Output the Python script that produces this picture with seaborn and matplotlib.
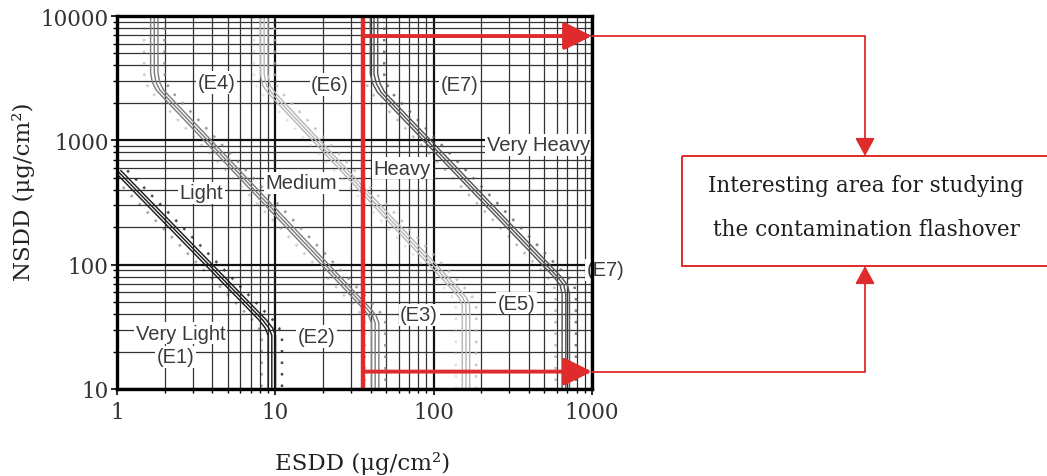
import numpy as np
import pandas as pd
import matplotlib.pyplot as plt
import seaborn as sns
from matplotlib.patches import Rectangle
from matplotlib.ticker import NullFormatter


# ==========================================
#   DATA (ug/cm2)
# ==========================================
# centre line of each band of curves, listed from top to bottom
e1_esdd = [1.0, 8.3, 9.1, 9.5, 9.5]
e1_nsdd = [573, 36, 31, 27, 10]

e2_esdd = [1.72, 1.72, 1.76, 1.86, 38.0, 41.0, 42.7, 42.7]
e2_nsdd = [10000, 3500, 2950, 2550, 44, 39, 34, 10]

e3_esdd = [8.5, 8.5, 8.8, 9.5, 140, 153, 160, 160]
e3_nsdd = [10000, 3400, 2750, 2400, 62, 54, 47, 10]

e7_esdd = [42, 42, 43.5, 46.5, 610, 665, 683, 683]
e7_nsdd = [10000, 3400, 2850, 2440, 79, 68, 58, 10]

band_names = ["E1", "E2", "E3", "E7"]
band_esdd = [e1_esdd, e2_esdd, e3_esdd, e7_esdd]
band_nsdd = [e1_nsdd, e2_nsdd, e3_nsdd, e7_nsdd]

label_text = ["(E4)", "(E6)", "(E7)", "Light", "Medium", "Heavy", "Very Heavy",
              "(E7)", "(E5)", "(E3)", "(E2)", "Very Light", "(E1)"]
label_esdd = [4.27, 22.2, 146, 3.4, 14.6, 63.5, 460, 1220, 334, 81, 18.2, 2.52, 2.34]
label_nsdd = [2920, 2810, 2810, 378, 456, 598, 922, 91, 49, 39.5, 26.4, 28.1, 18.2]

# area of interest
zone_esdd_min = 36
zone_esdd_max = 1000
zone_nsdd_top = 6900
zone_nsdd_bottom = 13.8

box_lines = ["Interesting area for studying", "the contamination flashover"]

# ==========================================
#   STYLE
# ==========================================
sns.set_style("ticks")
plt.rcParams['font.family'] = ['DejaVu Serif']

BAND_COLORS = {"E1": "#1e1e1e", "E2": "#808080", "E3": "#b8b8b8", "E7": "#585858"}
RED = "#df2b2b"
# strands of a band: (x shift factor, linestyle, linewidth, alpha)
STRANDS = [(1 / 1.16, (0, (1.0, 3.6)), 1.8, 0.4),
           (1 / 1.055, '-', 1.05, 1.0),
           (1.0, '-', 1.05, 1.0),
           (1.055, '-', 1.05, 1.0),
           (1.16, (0, (1.0, 3.6)), 1.8, 0.8)]

W, H = 1047, 477
fig = plt.figure(figsize=(W / 100, H / 100), dpi=100)
ax = fig.add_axes([117 / W, (H - 390) / H, 475 / W, 373 / H])
ax.set_xscale('log')
ax.set_yscale('log')
ax.set_xlim(1, 1000)
ax.set_ylim(10, 10000)

# grid
ax.grid(True, which='major', color='#111111', lw=1.6, zorder=0)
ax.grid(True, which='minor', color='#333333', lw=0.9, zorder=0)
ax.set_axisbelow(True)

# bands of curves
for name, xs, ys in zip(band_names, band_esdd, band_nsdd):
    df = pd.DataFrame({"esdd": xs, "nsdd": ys})
    for shift, ls, lw, al in STRANDS:
        sns.lineplot(x=df["esdd"] * shift, y=df["nsdd"], sort=False, estimator=None,
                     color=BAND_COLORS[name], linestyle=ls, linewidth=lw, alpha=al,
                     ax=ax, zorder=2)

# region labels
for t, x, y in zip(label_text, label_esdd, label_nsdd):
    ax.text(x, y, t, ha='center', va='center', fontsize=14.5, color='#3a3a3a',
            family='Liberation Sans', zorder=4, clip_on=False,
            bbox=dict(boxstyle='square,pad=0.08', fc='white', ec='none'))

# red zone markers
ax.axvline(zone_esdd_min, color=RED, lw=3.2, zorder=6)
for yv in [zone_nsdd_top, zone_nsdd_bottom]:
    ax.annotate('', xy=(zone_esdd_max, yv), xytext=(zone_esdd_min, yv),
                arrowprops=dict(arrowstyle='-|>,head_length=1.7,head_width=0.85',
                                color=RED, lw=2.8, shrinkA=0, shrinkB=0),
                zorder=6, annotation_clip=False)

# axes cosmetics
ax.set_xticks([1, 10, 100, 1000])
ax.set_xticklabels(['1', '10', '100', '1000'])
ax.set_yticks([10, 100, 1000, 10000])
ax.set_yticklabels(['10', '100', '1000', '10000'])
ax.xaxis.set_minor_formatter(NullFormatter())
ax.yaxis.set_minor_formatter(NullFormatter())
ax.tick_params(which='both', direction='out', color='black', labelsize=15.5,
               labelcolor='#333333')
ax.tick_params(which='major', length=4, width=1.2)
ax.tick_params(which='minor', length=3, width=1.0)
ax.tick_params(axis='x', pad=5)
ax.tick_params(axis='y', pad=2)
for sp in ax.spines.values():
    sp.set_linewidth(2.4)
    sp.set_color('black')
    sp.set_zorder(7)

ax.set_xlabel('ESDD (μg/cm²)', fontsize=16.5, color='#222222')
ax.set_ylabel('NSDD (μg/cm²)', fontsize=16.5, color='#222222')
ax.xaxis.set_label_coords(0.516, -0.165)
ax.yaxis.set_label_coords(-0.173, 0.53)

# ==========================================
#   Overlay: connectors and the note box
# ==========================================
ov = fig.add_axes([0, 0, 1, 1], zorder=10)
ov.set_xlim(0, W)
ov.set_ylim(H, 0)
ov.axis('off')
ov.patch.set_alpha(0)

conn_x = 865
box_top, box_bottom, box_left = 157, 267, 682
tips = []
for yv in [zone_nsdd_top, zone_nsdd_bottom]:
    px, py = ax.transData.transform((zone_esdd_max, yv))
    tips.append((px, H - py))

for (px, py), target in zip(tips, [box_top, box_bottom]):
    ov.plot([px, conn_x, conn_x], [py, py, target + (-14 if target == box_top else 14)],
            color=RED, lw=1.3, solid_joinstyle='miter')
    start = target - 16 if target == box_top else target + 16
    ov.annotate('', xy=(conn_x, target), xytext=(conn_x, start),
                arrowprops=dict(arrowstyle='-|>,head_length=1.1,head_width=0.6',
                                color=RED, lw=1.3, shrinkA=0, shrinkB=0))

ov.add_patch(Rectangle((box_left, box_top), W + 20 - box_left, box_bottom - box_top,
                       fill=False, ec=RED, lw=1.4))
for i, line in enumerate(box_lines):
    ov.text(866, 186 + i * 44, line, ha='center', va='center', fontsize=15.5,
            color='#1e1e1e')

fig.savefig('out.png', dpi=100)
